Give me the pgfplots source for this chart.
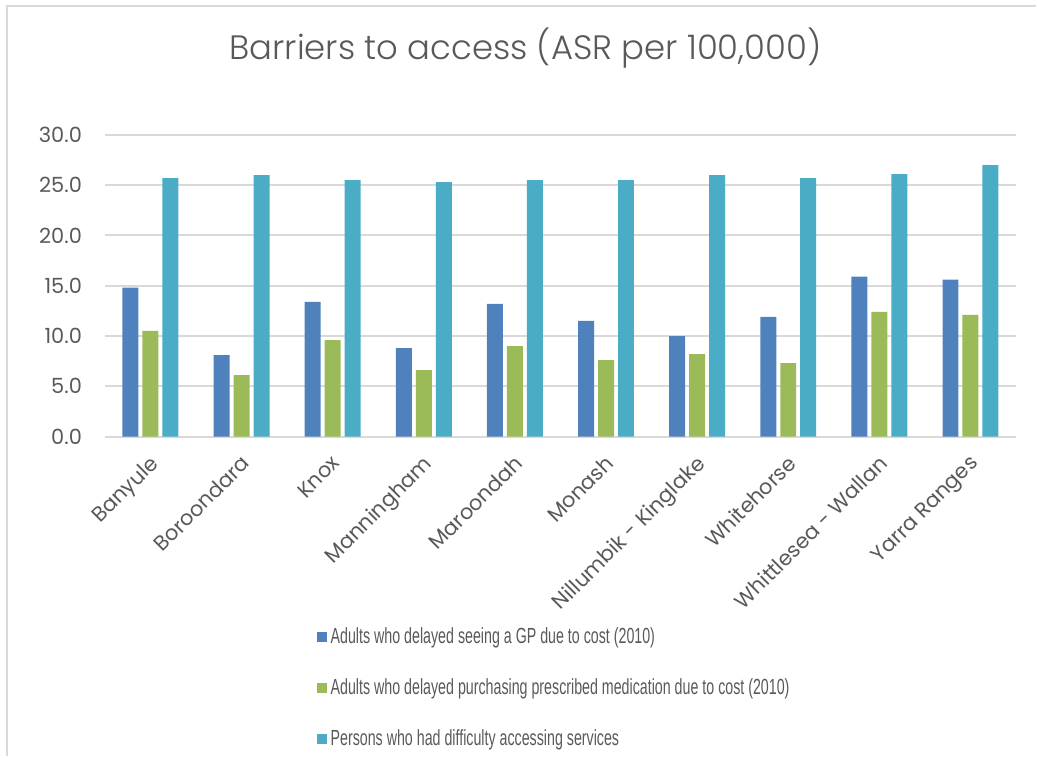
\documentclass[border=0pt]{standalone}
\usepackage{pgfplots}
\pgfplotsset{compat=1.18}
\usepackage{fontspec}
\setmainfont{Poppins}
\IfFontExistsTF{Poppins Light}{\newfontfamily\titlefont{Poppins Light}}{\newfontfamily\titlefont{Poppins}}
\newfontfamily\legendfont[FakeStretch=0.65]{Liberation Sans}
\definecolor{txt}{HTML}{595959}
\definecolor{cA}{HTML}{4F81BD}
\definecolor{cB}{HTML}{9BBB59}
\definecolor{cC}{HTML}{4BACC6}
\definecolor{gridc}{HTML}{D9D9D9}
\begin{document}
\begin{tikzpicture}[x=1bp,y=1bp]
\path (0,0) rectangle (518.5,378.5);
\draw[gridc, line width=1bp] (3.5,0) -- (3.5,375.5) -- (518.5,375.5);
\node[text=txt, font=\titlefont\fontsize{17}{20}\selectfont] at (263,354.5) {Barriers to access (ASR per 100,000)};
\begin{axis}[
  at={(52.5bp,160bp)}, anchor=south west,
  scale only axis, width=456bp, height=151bp,
  ymin=0, ymax=30, ytick={0,5,...,30},
  xmin=-0.5, xmax=9.5, xtick={0,...,9},
  xticklabels={Banyule,Boroondara,Knox,Manningham,Maroondah,Monash,Nillumbik - Kinglake,Whitehorse,Whittlesea - Wallan,Yarra Ranges},
  ybar=2bp, bar width=8bp,
  axis x line*=bottom, axis y line*=left,
  x axis line style={gridc, line width=1bp, -},
  y axis line style={draw=none},
  major tick length=0,
  ymajorgrids, grid style={gridc, line width=1bp},
  /pgf/number format/assume math mode=true,
  yticklabel style={/pgf/number format/fixed, /pgf/number format/fixed zerofill, /pgf/number format/precision=1, font=\fontsize{10.5}{12}\selectfont, text=txt, xshift=-8bp},
  xticklabel style={xshift=-1bp, yshift=-7bp, rotate=45, anchor=north east, font=\fontsize{10.5}{12}\selectfont, text=txt, inner sep=1bp},
  legend style={at={(axis description cs:0.232,-0.62)}, anchor=north west, draw=none, fill=none, font=\legendfont\fontsize{11}{13}\selectfont, text=txt, row sep=12bp, inner sep=0pt},
  legend cell align=left,
  legend image code/.code={\fill[#1] (0bp,-2.5bp) rectangle (5bp,2.5bp);},
]
\addplot[fill=cA, draw=none] coordinates {(0,14.8) (1,8.1) (2,13.4) (3,8.8) (4,13.2) (5,11.5) (6,10.0) (7,11.9) (8,15.9) (9,15.6)};
\addplot[fill=cB, draw=none] coordinates {(0,10.5) (1,6.1) (2,9.6) (3,6.6) (4,9.0) (5,7.6) (6,8.2) (7,7.3) (8,12.4) (9,12.1)};
\addplot[fill=cC, draw=none] coordinates {(0,25.7) (1,26.0) (2,25.5) (3,25.3) (4,25.5) (5,25.5) (6,26.0) (7,25.7) (8,26.1) (9,27.0)};
\legend{Adults who delayed seeing a GP due to cost (2010),Adults who delayed purchasing prescribed medication due to cost (2010),Persons who had difficulty accessing services}
\end{axis}
\end{tikzpicture}
\end{document}
